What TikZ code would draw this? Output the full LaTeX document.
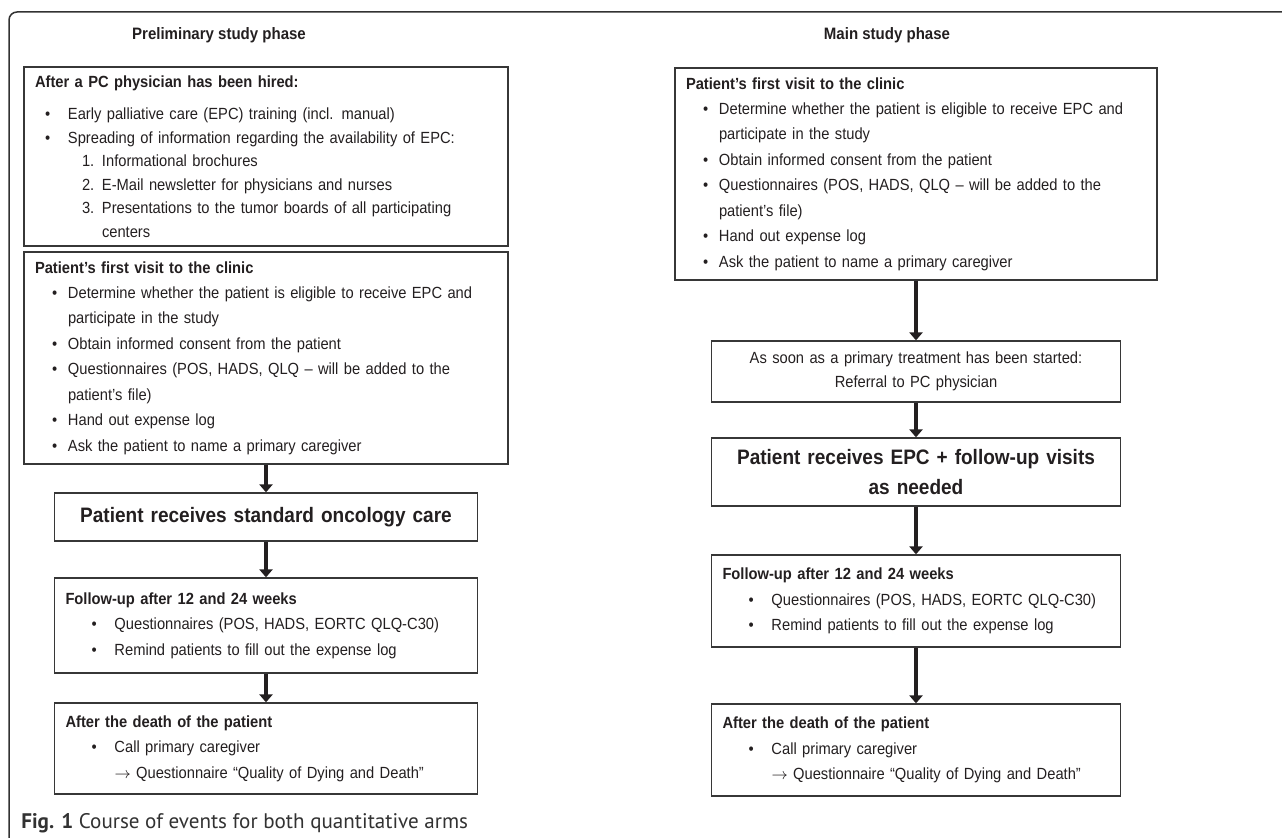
\documentclass[tikz,border=0pt]{standalone}
\usepackage{fontspec}
\setmainfont{Liberation Sans}[FakeStretch=0.91]
\newfontfamily\capfont{PT Sans}
\usepackage{tikz}
\usetikzlibrary{arrows.meta, positioning}
\definecolor{InkColor}{RGB}{35,31,32}
\definecolor{BoxColor}{RGB}{55,55,55}
\definecolor{FrameColor}{RGB}{50,50,50}
\newlength{\px}\setlength{\px}{0.02cm}
% list line: label offset, text offset, label, text
\newcommand{\entry}[4]{\par\noindent\hangindent=#2\px\hangafter=1\hspace*{#1\px}\makebox[\dimexpr#2\px-#1\px\relax][l]{#3}{\let\\\newline#4}\par}
\newcommand{\head}[1]{\noindent\textbf{#1}\par}

\begin{document}
\begin{tikzpicture}[x=\px, y=-\px,
        every node/.style={text=InkColor},
        listbox/.style 2 args={draw=BoxColor, line width=1.3\px, text width=#1\px, minimum height=#2\px, inner xsep=11\px, inner ysep=0pt, align=left, font=\fontsize{9.2}{14.5}\selectfont},
        plainbox/.style 2 args={draw=BoxColor, line width=1.3\px, text width=#1\px, minimum height=#2\px, inner xsep=11\px, inner ysep=0pt, align=center, font=\fontsize{9.2}{13.6}\selectfont},
        bigbox/.style 2 args={draw=BoxColor, line width=1.3\px, text width=#1\px, minimum height=#2\px, inner xsep=11\px, inner ysep=0pt, align=center, font=\bfseries\fontsize{11.9}{17.6}\selectfont},
        phase/.style={font=\bfseries\fontsize{9.4}{10}\selectfont},
        arrow/.style={-{Triangle[width=7.4pt, length=4.5pt]}, line width=2pt, draw=InkColor}
    ]
        \useasboundingbox (0,0) rectangle (1282,838);
        \draw[FrameColor, line width=1.5\px, rounded corners=8\px] (1300,12) -- (9,12) -- (9,846) -- (30,846);

        \node[phase] (prelim) at (219,35) {Preliminary study phase};
        \node[phase] (main) at (887,35) {Main study phase};

        % preliminary study phase
        \node[listbox={462}{179}] (hired) at (266,156.5) {\head{After a PC physician has been hired:}\vspace{9\px}
            \fontsize{9.2}{13.4}\selectfont
            \entry{10}{33}{\textbullet}{Early palliative care (EPC) training (incl. manual)}
            \entry{10}{33}{\textbullet}{Spreading of information regarding the availability of EPC:}
            \entry{47}{67}{1.}{Informational brochures}
            \entry{47}{67}{2.}{E-Mail newsletter for physicians and nurses}
            \entry{47}{67}{3.}{Presentations to the tumor boards of all participating\\centers}
        };
        \node[listbox={462}{212}] (visitL) at (266,358) {\head{Patient’s first visit to the clinic}
            \entry{17}{33}{\textbullet}{Determine whether the patient is eligible to receive EPC and\\participate in the study}
            \entry{17}{33}{\textbullet}{Obtain informed consent from the patient}
            \entry{17}{33}{\textbullet}{Questionnaires (POS, HADS, QLQ – will be added to the\\patient’s file)}
            \entry{17}{33}{\textbullet}{Hand out expense log}
            \entry{17}{33}{\textbullet}{Ask the patient to name a primary caregiver}
        };
        \node[bigbox={401}{48}] (standard) at (266,517) {Patient receives standard oncology care};
        \node[listbox={401}{95}] (followL) at (266,625.5) {\head{Follow-up after 12 and 24 weeks}
            \entry{26}{49}{\textbullet}{Questionnaires (POS, HADS, EORTC QLQ-C30)}
            \entry{26}{49}{\textbullet}{Remind patients to fill out the expense log}
        };
        \node[listbox={401}{91}] (deathL) at (266,748.5) {\head{After the death of the patient}
            \entry{26}{49}{\textbullet}{Call primary caregiver\\\ensuremath{\rightarrow} Questionnaire “Quality of Dying and Death”}
        };

        % main study phase
        \node[listbox={460}{212}] (visitR) at (916,174) {\head{Patient’s first visit to the clinic}
            \entry{17}{33}{\textbullet}{Determine whether the patient is eligible to receive EPC and\\participate in the study}
            \entry{17}{33}{\textbullet}{Obtain informed consent from the patient}
            \entry{17}{33}{\textbullet}{Questionnaires (POS, HADS, QLQ – will be added to the\\patient’s file)}
            \entry{17}{33}{\textbullet}{Hand out expense log}
            \entry{17}{33}{\textbullet}{Ask the patient to name a primary caregiver}
        };
        \node[plainbox={387}{61}] (referral) at (916,371.5) {As soon as a primary treatment has been started:\\Referral to PC physician};
        \node[bigbox={387}{68}] (epc) at (916,472) {Patient receives EPC + follow-up visits\\as needed};
        \node[listbox={387}{92}] (followR) at (916,601) {\head{Follow-up after 12 and 24 weeks}
            \entry{26}{49}{\textbullet}{Questionnaires (POS, HADS, EORTC QLQ-C30)}
            \entry{26}{49}{\textbullet}{Remind patients to fill out the expense log}
        };
        \node[listbox={387}{92}] (deathR) at (916,750) {\head{After the death of the patient}
            \entry{26}{49}{\textbullet}{Call primary caregiver\\\ensuremath{\rightarrow} Questionnaire “Quality of Dying and Death”}
        };

        \draw[arrow] (visitL.south) -- (standard.north);
        \draw[arrow] (standard.south) -- (followL.north);
        \draw[arrow] (followL.south) -- (deathL.north);
        \draw[arrow] (visitR.south) -- (referral.north);
        \draw[arrow] (referral.south) -- (epc.north);
        \draw[arrow] (epc.south) -- (followR.north);
        \draw[arrow] (followR.south) -- (deathR.north);

        \node[anchor=base west, inner sep=0pt, font=\capfont\fontsize{12}{14}\selectfont, text=FrameColor] (caption) at (21,828) {\textbf{Fig. 1} Course of events for both quantitative arms};
    \end{tikzpicture}
\end{document}
